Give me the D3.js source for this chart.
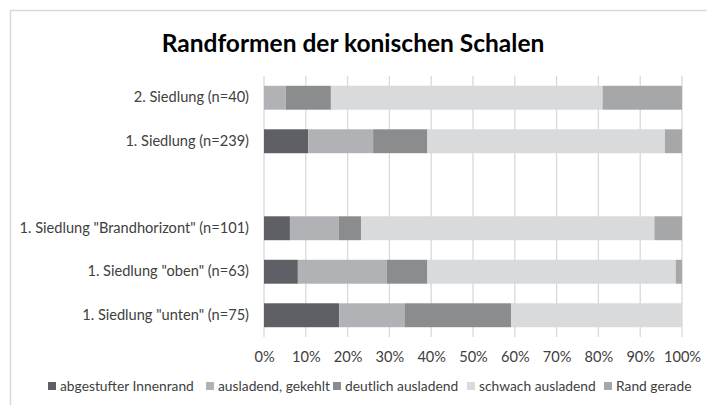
<!DOCTYPE html>
<html>
<head>
<meta charset="utf-8">
<script src="https://cdn.jsdelivr.net/npm/d3@7"></script>
<style>
  html, body { margin: 0; padding: 0; background: #fff; }
  svg { display: block; font-family: Lato, "Open Sans", sans-serif; }
</style>
</head>
<body>
<svg id="chart" width="707" height="405"></svg>
<script>
// Categories, top to bottom ("" is an empty spacer row)
const categories = [
  "2. Siedlung (n=40)",
  "1. Siedlung (n=239)",
  "",
  "1. Siedlung \"Brandhorizont\" (n=101)",
  "1. Siedlung \"oben\" (n=63)",
  "1. Siedlung \"unten\" (n=75)"
];

const seriesNames = [
  "abgestufter Innenrand",
  "ausladend, gekehlt",
  "deutlich ausladend",
  "schwach ausladend",
  "Rand gerade"
];

// Percent shares per category, one array per series
const abgestufter = [0,    10.6, 0, 6.2, 8.1, 18.0];
const ausladend   = [5.2,  15.5, 0, 11.7, 21.3, 15.6];
const deutlich    = [10.8, 13.0, 0, 5.3, 9.7, 25.5];
const schwach     = [65.0, 56.8, 0, 70.2, 59.4, 40.9];
const randGerade  = [19.0, 4.1,  0, 6.6, 1.5, 0];

const tickValues = [0, 10, 20, 30, 40, 50, 60, 70, 80, 90, 100];
const colors = ["#5f6065", "#b1b2b5", "#8b8c8e", "#d9dadc", "#a5a7a9"];

const seriesValues = [abgestufter, ausladend, deutlich, schwach, randGerade];
const rows = categories.map((c, i) => {
  const r = { cat: c, key: "r" + i };
  seriesNames.forEach((s, j) => { r[s] = seriesValues[j][i]; });
  return r;
});

const svg = d3.select("#chart");

// outer chart frame
svg.append("rect")
  .attr("x", 10.5).attr("y", 10.5)
  .attr("width", 720).attr("height", 420)
  .attr("fill", "none").attr("stroke", "#d9d9d9").attr("stroke-width", 1.5);

svg.append("text")
  .attr("x", 353).attr("y", 52)
  .attr("text-anchor", "middle")
  .attr("font-size", 24.5).attr("font-weight", "bold")
  .attr("fill", "#000")
  .text("Randformen der konischen Schalen");

const plot = { left: 264, right: 682, top: 76, bottom: 337 };

const x = d3.scaleLinear().domain([0, 100]).range([plot.left, plot.right]);
const y = d3.scaleBand().domain(rows.map(r => r.key))
  .range([plot.top, plot.bottom]).paddingInner(0.45).paddingOuter(0.225);

// vertical gridlines
svg.append("g").selectAll("line").data(tickValues).join("line")
  .attr("x1", d => x(d)).attr("x2", d => x(d))
  .attr("y1", plot.top).attr("y2", plot.bottom)
  .attr("stroke", "#d9d9d9").attr("stroke-width", 1.3);

const stack = d3.stack().keys(seriesNames)(rows);

svg.append("g").selectAll("g").data(stack).join("g")
  .attr("fill", (d, i) => colors[i])
  .selectAll("rect").data(d => d.filter(s => s[1] - s[0] > 0)).join("rect")
  .attr("x", d => x(d[0]))
  .attr("width", d => x(d[1]) - x(d[0]))
  .attr("y", d => y(d.data.key))
  .attr("height", y.bandwidth());

// category axis labels
const yAxis = d3.axisLeft(y).tickSize(0).tickPadding(15)
  .tickFormat(k => rows.find(r => r.key === k).cat);
const gy = svg.append("g").attr("transform", `translate(${plot.left},0)`).call(yAxis);
gy.select(".domain").remove();
gy.selectAll("text").attr("font-size", 14.6).attr("fill", "#404040")
  .attr("font-family", "Lato, sans-serif");

// percent axis
const xAxis = d3.axisBottom(x).tickValues(tickValues).tickSize(0).tickPadding(15)
  .tickFormat(d => d + "%");
const gx = svg.append("g").attr("transform", `translate(0,${plot.bottom})`).call(xAxis);
gx.select(".domain").remove();
gx.selectAll("text").attr("font-size", 14.6).attr("fill", "#404040")
  .attr("font-family", "Lato, sans-serif");

// legend
const legendX = [48, 206, 333, 467, 604];
const lg = svg.append("g").selectAll("g").data(seriesNames).join("g")
  .attr("transform", (d, i) => `translate(${legendX[i]},386)`);
lg.append("rect").attr("x", 0).attr("y", -4).attr("width", 8).attr("height", 8)
  .attr("fill", (d, i) => colors[i]);
lg.append("text").attr("x", 12).attr("y", 0).attr("dy", "0.35em")
  .attr("font-size", 13.8).attr("fill", "#404040")
  .text(d => d);
</script>
</body>
</html>
